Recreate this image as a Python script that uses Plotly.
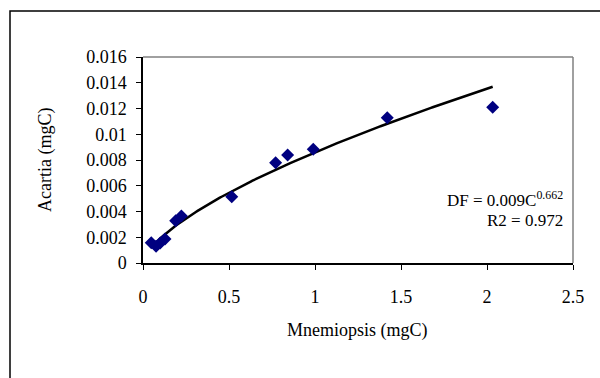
import numpy as np
import plotly.graph_objects as go

# Data
mnemiopsis = [0.048, 0.076, 0.100, 0.128, 0.190, 0.223, 0.516, 0.771, 0.841, 0.990, 1.420, 2.033]
acartia = [0.00158, 0.00130, 0.00155, 0.00186, 0.00329, 0.00365, 0.00515, 0.00779, 0.00839, 0.00883, 0.01129, 0.01209]

x_ticks = [0, 0.5, 1, 1.5, 2, 2.5]
y_ticks = [0, 0.002, 0.004, 0.006, 0.008, 0.01, 0.012, 0.014, 0.016]

# Power trendline fitted to the data (like Excel's power trendline)
b, loga = np.polyfit(np.log(mnemiopsis), np.log(acartia), 1)
a = np.exp(loga)
xf = np.linspace(min(mnemiopsis), max(mnemiopsis), 200)
yf = a * xf ** b

FONT = "Liberation Serif, Times New Roman, serif"
FS = 18

fig = go.Figure()
fig.add_trace(go.Scatter(x=xf, y=yf, mode="lines",
                         line=dict(color="black", width=2.5), hoverinfo="skip"))
fig.add_trace(go.Scatter(x=mnemiopsis, y=acartia, mode="markers",
                         marker=dict(symbol="diamond", size=10, color="#000080",
                                     line=dict(width=0))))

fig.update_layout(
    width=600, height=378,
    margin=dict(l=143, r=27, t=57, b=115),
    paper_bgcolor="white", plot_bgcolor="white",
    showlegend=False,
    font=dict(family=FONT, size=FS, color="black"),
    xaxis=dict(range=[0, 2.5], tickvals=x_ticks, ticktext=[f"{v:g}" for v in x_ticks],
               showgrid=False, zeroline=False, showline=True, linecolor="black",
               linewidth=1.5, ticks="outside", ticklen=5, tickcolor="black",
               ticklabelstandoff=12, fixedrange=True),
    yaxis=dict(range=[0, 0.016], tickvals=y_ticks, ticktext=[f"{v:g}" for v in y_ticks],
               showgrid=False, zeroline=False, showline=True, linecolor="black",
               linewidth=1.5, ticks="outside", ticklen=5, tickcolor="black",
               ticklabelstandoff=6, fixedrange=True),
)

# plot-area border (grey, top and right)
fig.add_shape(type="line", xref="paper", yref="paper", x0=0, x1=1, y0=1, y1=1,
              line=dict(color="#808080", width=1.5))
fig.add_shape(type="line", xref="paper", yref="paper", x0=1, x1=1, y0=0, y1=1,
              line=dict(color="#808080", width=1.5))
# outer chart frame
fig.add_shape(type="rect", xref="paper", yref="paper",
              x0=(10 - 143) / 430, x1=(601 - 143) / 430,
              y0=(263 - 392) / 206, y1=(263 - 11) / 206,
              line=dict(color="black", width=1.5))

fig.add_annotation(text="Acartia (mgC)", xref="paper", yref="paper",
                   x=(45 - 143) / 430, y=0.5, textangle=-90, showarrow=False,
                   xanchor="center", yanchor="middle", font=dict(size=FS))
fig.add_annotation(text="Mnemiopsis (mgC)", xref="paper", yref="paper",
                   x=(357 - 143) / 430, y=(263 - 330) / 206, showarrow=False,
                   xanchor="center", yanchor="middle", font=dict(size=FS))
fig.add_annotation(text="DF = 0.009C<sup>0.662</sup>", xref="x", yref="y",
                   x=2.455, y=(263 - 199) / 12875, showarrow=False,
                   xanchor="right", yanchor="middle", font=dict(size=17))
fig.add_annotation(text="R2 = 0.972", xref="x", yref="y",
                   x=2.455, y=(263 - 220) / 12875, showarrow=False,
                   xanchor="right", yanchor="middle", font=dict(size=17))

fig.write_html("out.html")
